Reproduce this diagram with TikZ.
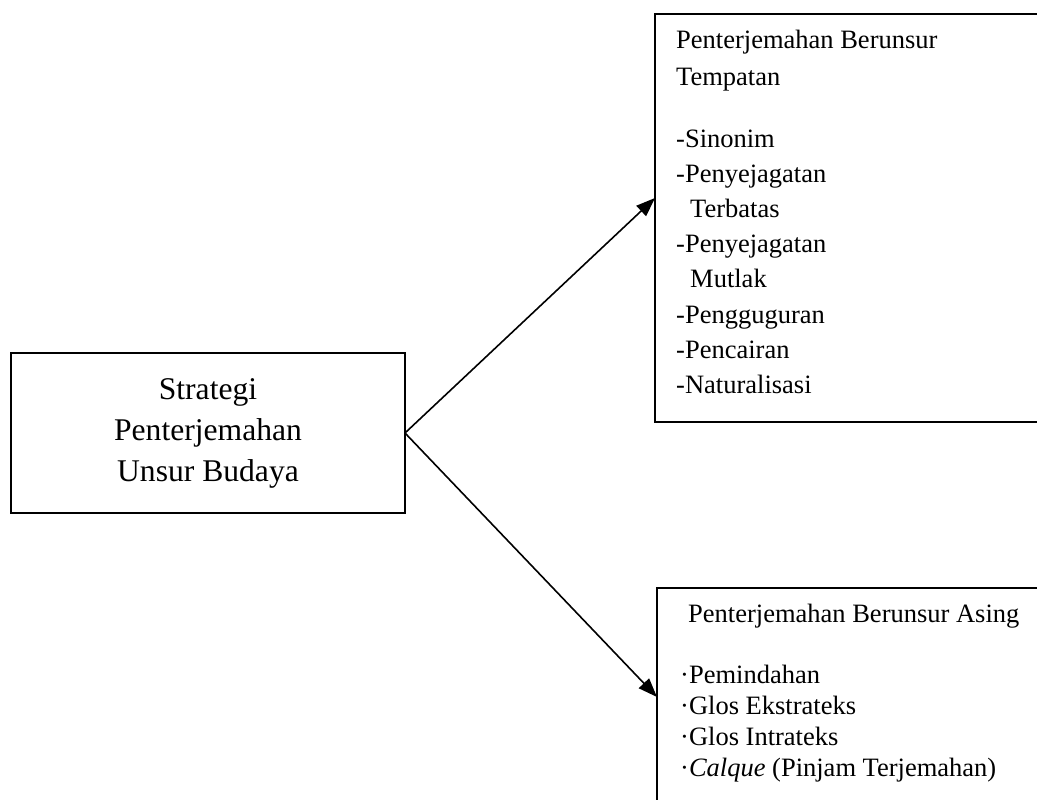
\documentclass[tikz,border=0pt]{standalone}
\usepackage{fontspec}
\setmainfont{Liberation Serif}
\usetikzlibrary{arrows.meta}

\tikzset{
  kotak/.style={draw, line width=1.8pt, inner sep=0pt, outer sep=0pt},
  butir/.style={anchor=base west, inner sep=0pt, font=\fontsize{26.5}{30}\selectfont},
  panah/.style={line width=1.6pt, -{Triangle[length=19pt,width=14pt]}}
}

\begin{document}
\begin{tikzpicture}[x=1pt,y=-1pt]
  \useasboundingbox (0,0) rectangle (1037,800);
  \clip (0,0) rectangle (1037,800);

  \node[kotak, minimum width=394pt, minimum height=160pt, align=center,
        font=\fontsize{31.6}{41}\selectfont] (strategi) at (208,433)
        {Strategi\\Penterjemahan\\Unsur Budaya};

  \node[kotak, anchor=north west, minimum width=400pt, minimum height=408pt] (tempatan) at (655,14) {};
  \node[kotak, anchor=north west, minimum width=400pt, minimum height=260pt] (asing) at (657,588) {};

  % isi kotak atas
  \foreach \yy/\teks [count=\i] in {49/Penterjemahan Berunsur, 85/Tempatan, 147/-Sinonim,
      182/-Penyejagatan, 217/\hspace*{14pt}Terbatas, 252/-Penyejagatan,
      287/\hspace*{14pt}Mutlak, 323/-Pengguguran, 358/-Pencairan, 393/-Naturalisasi}
    \node[butir] (tempatan-\i) at (676,\yy) {\teks};

  % isi kotak bawah
  \node[butir] (asing-judul) at (688,622) {Penterjemahan Berunsur Asing};
  \foreach \yy/\teks [count=\i] in {683/·Pemindahan, 714/·Glos Ekstrateks,
      745/·Glos Intrateks, 776/·\textit{Calque} (Pinjam Terjemahan)}
    \node[butir] (asing-\i) at (680,\yy) {\teks};

  \draw[panah] (strategi.east) -- ([yshift=-184pt]tempatan.north west);
  \draw[panah] (strategi.east) -- ([yshift=-109pt]asing.north west);
\end{tikzpicture}
\end{document}
